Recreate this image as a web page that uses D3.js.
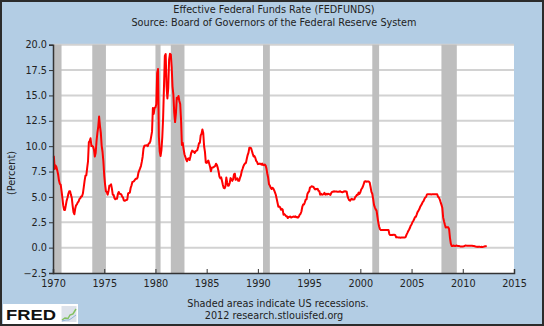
<!DOCTYPE html>
<html><head><meta charset="utf-8">
<script src="https://cdn.jsdelivr.net/npm/d3@7"></script>
<style>html,body{margin:0;padding:0;background:#b3cde4;}svg{display:block;}</style>
</head><body>
<svg id="c" width="544" height="326"></svg>
<script>
const startYear = 1970;
// Monthly effective federal funds rate, Jan 1970 - May 2012 (percent)
const fedFunds = [
 8.98,8.98,7.76,8.10,7.95,7.61,7.21,6.61,6.29,6.20,5.60,4.90,
 4.14,3.72,3.71,4.16,4.63,4.91,5.31,5.56,5.55,5.20,4.91,4.14,
 3.50,3.29,3.83,4.17,4.27,4.46,4.55,4.80,4.87,5.04,5.06,5.33,
 5.94,6.58,7.09,7.12,7.84,8.49,10.40,10.50,10.78,10.01,10.03,9.95,
 9.65,8.97,9.35,10.51,11.31,11.93,12.92,12.01,11.34,10.06,9.45,8.53,
 7.13,6.24,5.54,5.49,5.22,5.55,6.10,6.14,6.24,5.82,5.22,5.20,
 4.87,4.77,4.84,4.82,5.29,5.48,5.31,5.29,5.25,5.03,4.95,4.65,
 4.61,4.68,4.69,4.73,5.35,5.39,5.42,5.90,6.14,6.47,6.51,6.56,
 6.70,6.78,6.79,6.89,7.36,7.60,7.81,8.04,8.45,8.96,9.76,10.03,
 10.07,10.06,10.09,10.01,10.24,10.29,10.47,10.94,11.43,13.77,13.18,13.78,
 13.82,14.13,17.19,17.61,10.98,9.47,9.03,9.61,10.87,12.81,15.85,18.90,
 19.08,15.93,14.70,15.72,18.52,19.10,19.04,17.82,15.87,15.08,13.31,12.37,
 13.22,14.78,14.68,14.94,14.45,14.15,12.59,10.12,10.31,9.71,9.20,8.95,
 8.68,8.51,8.77,8.80,8.63,8.98,9.37,9.56,9.45,9.48,9.34,9.47,
 9.56,9.59,9.91,10.29,10.32,11.06,11.23,11.64,11.30,9.99,9.43,8.38,
 8.35,8.50,8.58,8.27,7.97,7.53,7.88,7.90,7.92,7.99,8.05,8.27,
 8.14,7.86,7.48,6.99,6.85,6.92,6.56,6.17,5.89,5.85,6.04,6.91,
 6.43,6.10,6.13,6.37,6.85,6.73,6.58,6.73,7.22,7.29,6.69,6.77,
 6.83,6.58,6.58,6.87,7.09,7.51,7.75,8.01,8.19,8.30,8.35,8.76,
 9.12,9.36,9.85,9.84,9.81,9.53,9.24,8.99,9.02,8.84,8.55,8.45,
 8.23,8.24,8.28,8.26,8.18,8.29,8.15,8.13,8.20,8.11,7.81,7.31,
 6.91,6.25,6.12,5.91,5.78,5.90,5.82,5.66,5.45,5.21,4.81,4.43,
 4.03,4.06,3.98,3.73,3.82,3.76,3.25,3.30,3.22,3.10,3.09,2.92,
 3.02,3.03,3.07,2.96,3.00,3.04,3.06,3.03,3.09,2.99,3.02,2.96,
 3.05,3.25,3.34,3.56,4.01,4.25,4.26,4.47,4.73,4.76,5.29,5.45,
 5.53,5.92,5.98,6.05,6.01,6.00,5.85,5.74,5.80,5.76,5.80,5.60,
 5.56,5.22,5.31,5.22,5.24,5.27,5.40,5.22,5.30,5.24,5.31,5.29,
 5.25,5.19,5.39,5.51,5.50,5.56,5.52,5.54,5.54,5.50,5.52,5.50,
 5.56,5.51,5.49,5.45,5.49,5.56,5.54,5.55,5.51,5.07,4.83,4.68,
 4.63,4.76,4.81,4.74,4.74,4.76,4.99,5.07,5.22,5.20,5.42,5.30,
 5.45,5.73,5.85,6.02,6.27,6.53,6.54,6.50,6.52,6.51,6.51,6.40,
 5.98,5.49,5.31,4.80,4.21,3.97,3.77,3.65,3.07,2.49,2.09,1.82,
 1.73,1.74,1.73,1.75,1.75,1.75,1.73,1.74,1.75,1.75,1.34,1.24,
 1.24,1.26,1.25,1.26,1.26,1.22,1.01,1.03,1.01,1.01,1.00,0.98,
 1.00,1.01,1.00,1.00,1.00,1.03,1.26,1.43,1.61,1.76,1.93,2.16,
 2.28,2.50,2.63,2.79,3.00,3.04,3.26,3.50,3.62,3.78,4.00,4.16,
 4.29,4.49,4.59,4.79,4.94,4.99,5.24,5.25,5.25,5.25,5.25,5.24,
 5.25,5.26,5.26,5.25,5.25,5.25,5.26,5.02,4.94,4.76,4.49,4.24,
 3.94,2.98,2.61,2.28,1.98,2.00,2.01,2.00,1.81,0.97,0.39,0.16,
 0.15,0.22,0.18,0.15,0.18,0.21,0.16,0.16,0.15,0.12,0.12,0.12,
 0.11,0.13,0.16,0.20,0.20,0.18,0.18,0.19,0.19,0.19,0.19,0.18,
 0.17,0.16,0.14,0.10,0.09,0.09,0.07,0.10,0.08,0.07,0.08,0.07,
 0.08,0.10,0.13,0.14,0.16
];
// NBER recessions (decimal year start / end, clipped to chart range)
const recessionStart = [1970.0, 1973.833, 1980.0, 1981.5, 1990.5, 2001.167, 2007.917];
const recessionEnd   = [1970.833, 1975.167, 1980.5, 1982.833, 1991.167, 2001.833, 2009.417];
const yTicks = [-2.5, 0, 2.5, 5, 7.5, 10, 12.5, 15, 17.5, 20];
const xTicks = [1970, 1975, 1980, 1985, 1990, 1995, 2000, 2005, 2010, 2015];
const titleText = "Effective Federal Funds Rate (FEDFUNDS)";
const sourceText = "Source: Board of Governors of the Federal Reserve System";
const noteText = "Shaded areas indicate US recessions.";
const creditText = "2012 research.stlouisfed.org";
const yLabel = "(Percent)";

(function(){
const W = 544, H = 326;
const pL = 53, pR = 514, pT = 44.7, pB = 273;
const font = "'DejaVu Sans', sans-serif";
const svg = d3.select("#c");

svg.append("rect").attr("x",0).attr("y",0).attr("width",W).attr("height",H).attr("fill","#b3cde4");

const x = d3.scaleLinear().domain([1970, 2015]).range([pL, pR]);
const y = d3.scaleLinear().domain([-2.5, 20]).range([pB, pT]);

svg.append("rect").attr("x",pL).attr("y",pT).attr("width",pR-pL).attr("height",pB-pT).attr("fill","#ffffff");

svg.append("g").selectAll("line").data(yTicks.filter(d=>d>-2.5)).join("line")
  .attr("x1",pL).attr("x2",pR).attr("y1",d=>y(d)).attr("y2",d=>y(d))
  .attr("stroke","#d2d2d2").attr("stroke-width",2);

svg.append("g").selectAll("rect").data(recessionStart.map((s,i)=>[s,recessionEnd[i]])).join("rect")
  .attr("x",d=>x(d[0])).attr("width",d=>x(d[1])-x(d[0]))
  .attr("y",pT).attr("height",pB-pT).attr("fill","#bebebe");

const pts = fedFunds.map((v,i)=>({t:startYear+i/12, v}));
svg.append("path").datum(pts)
  .attr("d", d3.line().x(d=>x(d.t)).y(d=>y(d.v)))
  .attr("fill","none").attr("stroke","#ff0000").attr("stroke-width",2).attr("stroke-linejoin","round");

const yAxis = d3.axisLeft(y).tickValues(yTicks).tickFormat(d3.format(".1f")).tickSize(4).tickPadding(2);
const gy = svg.append("g").attr("transform",`translate(${pL},0)`).call(yAxis);
gy.select(".domain").attr("stroke","#333").attr("stroke-width",1.5);
gy.selectAll(".tick line").attr("stroke","#333");
gy.selectAll("text").attr("font-family",font).attr("font-size","9.7px").attr("fill","#222");

const xAxis = d3.axisBottom(x).tickValues(xTicks).tickFormat(d3.format("d")).tickSize(-4).tickPadding(7);
const gx = svg.append("g").attr("transform",`translate(0,${pB})`).call(xAxis);
gx.select(".domain").attr("stroke","#333").attr("stroke-width",1.5);
gx.selectAll(".tick line").attr("stroke","#333");
gx.selectAll("text").attr("font-family",font).attr("font-size","9.7px").attr("fill","#222");

function txt(xp, yp, s, anchor){
  return svg.append("text").attr("x",xp).attr("y",yp).attr("text-anchor",anchor||"middle")
    .attr("font-family",font).attr("font-size","9.7px").attr("fill","#222").text(s);
}
txt(274,13,titleText);
txt(274,26,sourceText);
svg.append("text").attr("transform","translate(15,173) rotate(-90)").attr("text-anchor","middle")
  .attr("font-family",font).attr("font-size","9.7px").attr("fill","#222").text(yLabel);
txt(278,307,noteText);
txt(274,319,creditText);

const logo = svg.append("g");
logo.append("rect").attr("x",3).attr("y",304).attr("width",75).attr("height",20).attr("fill","#ffffff");
logo.append("text").attr("x",6).attr("y",319.5).attr("font-family","'Liberation Sans', Arial, sans-serif")
  .attr("font-weight","bold").attr("font-size","15.5px").attr("fill","#111")
  .attr("textLength",50).attr("lengthAdjust","spacingAndGlyphs").text("FRED");
logo.append("rect").attr("x",61.5).attr("y",306).attr("width",15).attr("height",16).attr("fill","#dde2ea");
logo.append("polyline").attr("points","62,320 65,318 68,318.5 70,315 73,314 76,309")
  .attr("fill","none").attr("stroke","#82c060").attr("stroke-width",1.5);
logo.append("polyline").attr("points","62,321 66,320 69,320 72,318 76,315")
  .attr("fill","none").attr("stroke","#8fb3d9").attr("stroke-width",1);

svg.append("rect").attr("x",1).attr("y",1).attr("width",W-2).attr("height",H-2)
  .attr("fill","none").attr("stroke","#2b2b2b").attr("stroke-width",2);
})();
</script>
</body></html>
